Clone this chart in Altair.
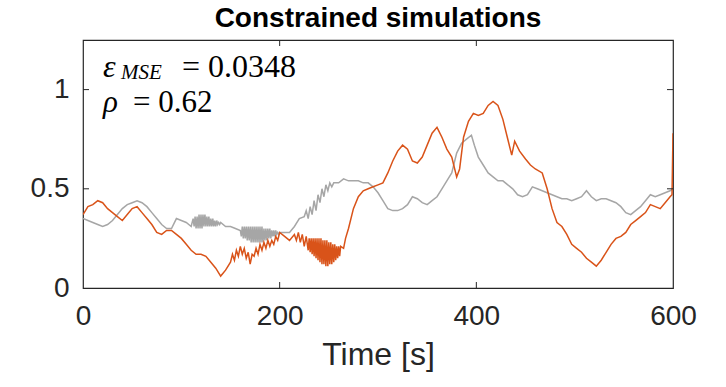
import altair as alt
import pandas as pd

# ---------------- data ----------------
# gray series, in segments (time [s], value)
gray_t_a = list(range(0, 111, 5))
gray_v_a = [0.35, 0.34, 0.33, 0.32, 0.31, 0.32, 0.34, 0.37, 0.40, 0.42, 0.43, 0.44, 0.43, 0.41, 0.38,
            0.35, 0.32, 0.30, 0.30, 0.35, 0.34, 0.33, 0.31]
gray_t_b = list(range(111, 141))
gray_v_b = [0.33, 0.35, 0.31, 0.36, 0.30, 0.36, 0.30, 0.37, 0.30, 0.37, 0.30, 0.37, 0.31, 0.37, 0.31,
            0.36, 0.31, 0.36, 0.31, 0.35, 0.31, 0.35, 0.31, 0.34, 0.31, 0.34, 0.32, 0.33, 0.32, 0.33]
gray_t_c = [145, 150, 155]
gray_v_c = [0.31, 0.31, 0.30]
gray_t_d = list(range(160, 201))
gray_v_d = [0.29, 0.26, 0.31, 0.25, 0.31, 0.25, 0.31, 0.24, 0.31, 0.24, 0.31, 0.23, 0.31, 0.23, 0.31,
            0.23, 0.31, 0.23, 0.31, 0.23, 0.31, 0.23, 0.31, 0.23, 0.30, 0.24, 0.30, 0.24, 0.30, 0.25,
            0.30, 0.25, 0.29, 0.26, 0.29, 0.26, 0.29, 0.27, 0.28, 0.27, 0.28]
gray_t_e = [205, 210, 215, 220]
gray_v_e = [0.28, 0.28, 0.31, 0.35]
gray_t_f = list(range(225, 256, 2))
gray_v_f = [0.36, 0.39, 0.35, 0.41, 0.37, 0.44, 0.39, 0.47, 0.43, 0.50, 0.46, 0.52, 0.49, 0.53, 0.51, 0.53]
gray_t_g = [260, 265, 270, 275, 280, 285, 290, 295, 300, 305, 310, 315, 320, 325, 330, 335, 340, 345,
            350, 355, 360, 365, 370, 375, 380, 385, 390, 395, 398, 402, 407, 412, 417, 422, 427, 432,
            437, 442, 447, 452, 457, 462, 467, 472, 477, 482, 487, 492, 497, 502, 507, 512, 517, 522,
            527, 532, 537, 542, 547, 552, 557, 562, 567, 572, 577, 582, 587, 592, 597, 600]
gray_v_g = [0.53, 0.55, 0.54, 0.54, 0.54, 0.53, 0.53, 0.51, 0.48, 0.44, 0.40, 0.39, 0.39, 0.40, 0.42,
            0.46, 0.45, 0.43, 0.42, 0.44, 0.46, 0.50, 0.54, 0.58, 0.68, 0.73, 0.75, 0.77, 0.72, 0.66,
            0.62, 0.58, 0.56, 0.54, 0.54, 0.52, 0.50, 0.47, 0.46, 0.47, 0.51, 0.50, 0.49, 0.48, 0.47,
            0.46, 0.45, 0.45, 0.44, 0.45, 0.46, 0.49, 0.46, 0.44, 0.45, 0.45, 0.44, 0.43, 0.41, 0.38,
            0.37, 0.39, 0.41, 0.44, 0.47, 0.46, 0.47, 0.48, 0.49, 0.50]

# orange series, in segments
orange_t_a = list(range(0, 151, 5))
orange_v_a = [0.37, 0.41, 0.42, 0.44, 0.43, 0.40, 0.38, 0.36, 0.34, 0.37, 0.40, 0.41, 0.38, 0.35, 0.32,
              0.28, 0.27, 0.29, 0.29, 0.27, 0.25, 0.22, 0.19, 0.17, 0.17, 0.16, 0.13, 0.10, 0.06, 0.09, 0.13]
orange_t_b = list(range(152, 201, 2))
orange_v_b = [0.17, 0.14, 0.19, 0.16, 0.21, 0.17, 0.20, 0.15, 0.18, 0.12, 0.17, 0.16, 0.20, 0.17, 0.22,
              0.19, 0.23, 0.20, 0.24, 0.21, 0.24, 0.22, 0.26, 0.24, 0.28]
orange_t_c = [205, 210, 215, 217, 219, 221, 223, 225, 227]
orange_v_c = [0.26, 0.24, 0.27, 0.24, 0.28, 0.23, 0.27, 0.21, 0.26]
orange_t_d = list(range(229, 263))
orange_v_d = [0.19, 0.25, 0.18, 0.25, 0.17, 0.25, 0.16, 0.25, 0.15, 0.25, 0.14, 0.25, 0.13, 0.25, 0.12,
              0.24, 0.12, 0.24, 0.11, 0.24, 0.11, 0.23, 0.12, 0.23, 0.12, 0.22, 0.13, 0.22, 0.14, 0.21,
              0.15, 0.21, 0.16, 0.21]
orange_t_e = [265, 267, 270, 275, 280, 285, 290, 295, 300, 305, 310, 315, 320, 325, 330, 335, 340, 345,
              350, 355, 360, 365, 370, 375, 380, 383, 387, 392, 397, 402, 407, 412, 417, 422, 427, 432,
              436, 439, 444, 450, 455, 460, 467, 472, 477, 482, 487, 492, 497, 502, 507, 512, 517, 522,
              527, 532, 537, 542, 547, 552, 557, 562, 567, 572, 577, 582, 587, 592, 597, 599, 600]
orange_v_e = [0.20, 0.25, 0.30, 0.40, 0.46, 0.49, 0.50, 0.51, 0.52, 0.53, 0.58, 0.64, 0.69, 0.72, 0.70,
              0.64, 0.63, 0.66, 0.72, 0.78, 0.81, 0.76, 0.70, 0.66, 0.56, 0.60, 0.76, 0.84, 0.88, 0.87,
              0.88, 0.92, 0.94, 0.92, 0.85, 0.75, 0.67, 0.74, 0.69, 0.65, 0.62, 0.60, 0.58, 0.50, 0.40,
              0.33, 0.31, 0.27, 0.22, 0.20, 0.18, 0.15, 0.13, 0.11, 0.14, 0.18, 0.22, 0.25, 0.26, 0.28,
              0.32, 0.34, 0.36, 0.38, 0.42, 0.41, 0.40, 0.43, 0.46, 0.47, 0.78]

x_ticks = [0, 200, 400, 600]
y_ticks = [0, 0.5, 1]
x_inner_ticks = [200, 400]
y_inner_ticks = [0.5, 1]

title_text = "Constrained simulations"
x_title = "Time [s]"

gray_t = gray_t_a + gray_t_b + gray_t_c + gray_t_d + gray_t_e + gray_t_f + gray_t_g
gray_v = gray_v_a + gray_v_b + gray_v_c + gray_v_d + gray_v_e + gray_v_f + gray_v_g
orange_t = orange_t_a + orange_t_b + orange_t_c + orange_t_d + orange_t_e
orange_v = orange_v_a + orange_v_b + orange_v_c + orange_v_d + orange_v_e
assert len(gray_t) == len(gray_v), (len(gray_t), len(gray_v))
assert len(orange_t) == len(orange_v), (len(orange_t), len(orange_v))

W, H = 590, 248
X_DOMAIN = [0, 600]
Y_DOMAIN = [0, 1.25]

GRAY = "#a6a6a6"
ORANGE = "#d95319"
AXIS = "#262626"

gray_df = pd.DataFrame({"t": gray_t, "v": gray_v})
orange_df = pd.DataFrame({"t": orange_t, "v": orange_v})

xscale = alt.Scale(domain=X_DOMAIN, nice=False, zero=False)
yscale = alt.Scale(domain=Y_DOMAIN, nice=False, zero=False)

xaxis = alt.Axis(values=x_ticks, ticks=False, domain=False, grid=False,
                 labelFontSize=28, labelColor=AXIS, labelFont="Liberation Sans",
                 labelPadding=14, labelFlush=False,
                 title=x_title, titleFontSize=32, titleFont="Liberation Sans",
                 titleColor=AXIS, titleFontWeight="normal", titlePadding=9)
yaxis = alt.Axis(values=y_ticks, ticks=False, domain=False, grid=False,
                 labelFontSize=28, labelColor=AXIS, labelFont="Liberation Sans",
                 labelPadding=14, labelFlush=False, labelExpr="datum.value",
                 title=None)

base_gray = alt.Chart(gray_df).mark_line(color=GRAY, strokeWidth=1.5, clip=True).encode(
    x=alt.X("t:Q", scale=xscale, axis=xaxis),
    y=alt.Y("v:Q", scale=yscale, axis=yaxis),
    order="t:Q",
)
line_orange = alt.Chart(orange_df).mark_line(color=ORANGE, strokeWidth=1.5, clip=True).encode(
    x=alt.X("t:Q", scale=xscale),
    y=alt.Y("v:Q", scale=yscale),
    order="t:Q",
)

xt_df = pd.DataFrame({"t": x_inner_ticks})
yt_df = pd.DataFrame({"v": y_inner_ticks})

ticks_bottom = alt.Chart(xt_df).mark_rule(color=AXIS, strokeWidth=1).encode(
    x=alt.X("t:Q", scale=xscale), y=alt.value(H), y2=alt.value(H - 6))
ticks_top = alt.Chart(xt_df).mark_rule(color=AXIS, strokeWidth=1).encode(
    x=alt.X("t:Q", scale=xscale), y=alt.value(0), y2=alt.value(6))
ticks_left = alt.Chart(yt_df).mark_rule(color=AXIS, strokeWidth=1).encode(
    y=alt.Y("v:Q", scale=yscale), x=alt.value(0), x2=alt.value(6))
ticks_right = alt.Chart(yt_df).mark_rule(color=AXIS, strokeWidth=1).encode(
    y=alt.Y("v:Q", scale=yscale), x=alt.value(W), x2=alt.value(W - 6))

SERIF = "Liberation Serif"
ann_df = pd.DataFrame({"k": [0]})


def txt(s, x, y, size, style="normal"):
    return alt.Chart(ann_df).mark_text(
        text=s, font=SERIF, fontSize=size, fontStyle=style, color="#000000",
        align="left", baseline="alphabetic").encode(x=alt.value(x), y=alt.value(y))


annotations = [
    txt("ε", 20, 37, 32, "italic"),
    txt("MSE", 38, 39, 21, "italic"),
    txt("= 0.0348", 99, 37, 32),
    txt("ρ", 20, 72, 31, "italic"),
    txt("= 0.62", 50, 72, 31),
]

chart = alt.layer(base_gray, line_orange, ticks_bottom, ticks_top, ticks_left, ticks_right,
                  *annotations).properties(
    width=W, height=H,
    title=alt.TitleParams(title_text, fontSize=28, font="Liberation Sans", fontWeight="bold",
                          color="#000000", anchor="middle", offset=7),
    autosize=alt.AutoSizeParams(type="none"),
    padding={"left": 83, "top": 40, "right": 53, "bottom": 99},
).configure(background="white").configure_view(stroke=AXIS, strokeWidth=1.2)

chart.save("out.html", embed_options={"renderer": "svg", "actions": False})
